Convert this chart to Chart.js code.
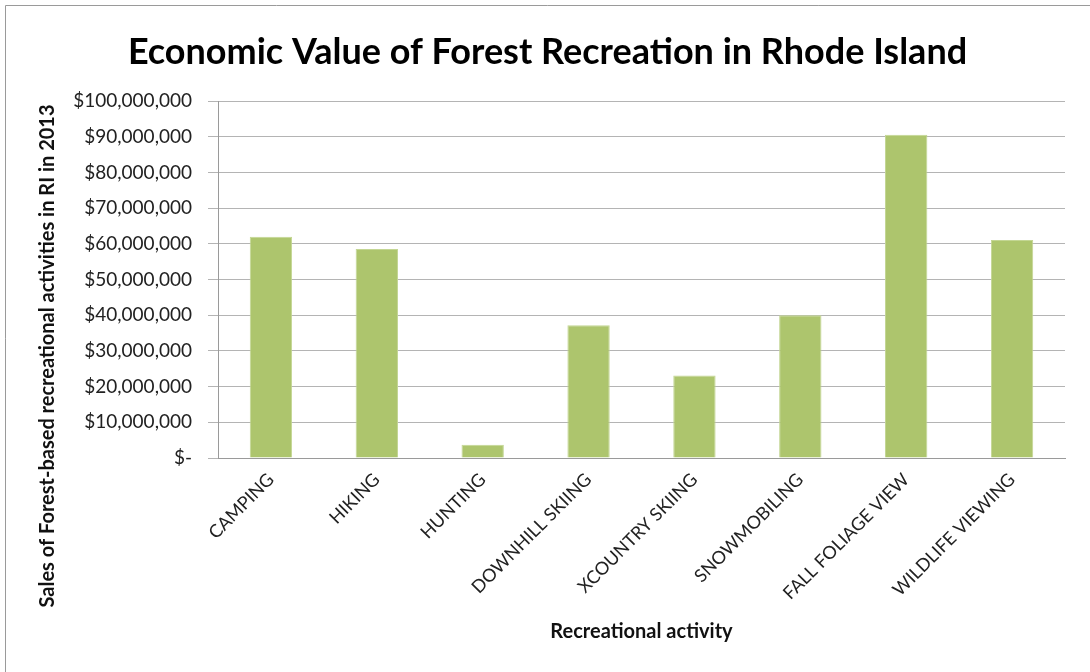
<!DOCTYPE html>
<html lang="en">
<head>
    <meta charset="UTF-8">
    <title>Economic Value of Forest Recreation in Rhode Island</title>
    <style>
        body {
            margin: 0;
            padding: 0;
            background-color: #fff;
        }

        #wrap {
            width: 1090px;
            height: 672px;
            position: relative;
        }
    </style>
</head>
<body>
    <div id="wrap">
        <canvas id="forestChart" width="1090" height="672"></canvas>
    </div>
    <script src="https://cdn.jsdelivr.net/npm/chart.js"></script>
    <script>
        // values (US dollars, 2013)
        const activities = ['CAMPING', 'HIKING', 'HUNTING', 'DOWNHILL SKIING', 'XCOUNTRY SKIING', 'SNOWMOBILING', 'FALL FOLIAGE VIEW', 'WILDLIFE VIEWING'];
        const sales = [62000000, 58600000, 3700000, 37200000, 23100000, 40000000, 90600000, 61100000];
        const yTicks = [0, 10000000, 20000000, 30000000, 40000000, 50000000, 60000000, 70000000, 80000000, 90000000, 100000000];

        const fontFamily = 'Lato, "Open Sans", sans-serif';
        const yTitle = 'Sales of Forest-based recreational activities in RI in 2013';

        function dollars(v) {
            if (v === 0) return '$-';
            return '$' + v.toLocaleString('en-US');
        }

        // thin frame around the chart (like the pasted Excel object) + y axis title
        const framePlugin = {
            id: 'frame',
            beforeDraw(chart) {
                const ctx = chart.ctx;
                ctx.save();
                ctx.strokeStyle = '#9a9a9a';
                ctx.lineWidth = 1;
                ctx.beginPath();
                ctx.moveTo(5.5, 672);
                ctx.lineTo(5.5, 5.5);
                ctx.lineTo(1090, 5.5);
                ctx.stroke();
                ctx.restore();
            },
            afterDraw(chart) {
                const ctx = chart.ctx;
                ctx.save();
                ctx.translate(48, 356);
                ctx.rotate(-Math.PI / 2);
                ctx.fillStyle = '#111';
                ctx.font = 'bold 20px ' + fontFamily;
                ctx.textAlign = 'center';
                ctx.textBaseline = 'middle';
                ctx.fillText(yTitle, 0, 0);
                ctx.restore();
            }
        };

        const ctx = document.getElementById('forestChart').getContext('2d');
        new Chart(ctx, {
            type: 'bar',
            data: {
                labels: activities,
                datasets: [{
                    label: 'Sales',
                    data: sales,
                    backgroundColor: '#adc56d',
                    borderColor: '#c3d693',
                    borderWidth: 1,
                    categoryPercentage: 1.0,
                    barPercentage: 0.4
                }]
            },
            options: {
                responsive: false,
                animation: false,
                layout: {
                    padding: { left: 30, right: 25, top: 0, bottom: 24 }
                },
                plugins: {
                    legend: { display: false },
                    tooltip: { enabled: false },
                    title: {
                        display: true,
                        text: 'Economic Value of Forest Recreation in Rhode Island',
                        color: '#000',
                        font: { family: fontFamily, size: 36, weight: 'bold' },
                        padding: { top: 31, bottom: 27 }
                    }
                },
                scales: {
                    x: {
                        grid: { display: false },
                        border: { display: true, color: '#9a9a9a', width: 1 },
                        ticks: {
                            color: '#222',
                            font: { family: fontFamily, size: 18 },
                            minRotation: 45,
                            maxRotation: 45,
                            autoSkip: false
                        },
                        title: {
                            display: true,
                            text: 'Recreational activity',
                            color: '#111',
                            font: { family: fontFamily, size: 20, weight: 'bold' },
                            padding: { top: 4, bottom: 4 }
                        },
                        afterFit(scale) {
                            scale.height = 190;
                        }
                    },
                    y: {
                        min: 0,
                        max: 100000000,
                        afterBuildTicks(scale) {
                            scale.ticks = yTicks.map(v => ({ value: v }));
                        },
                        grid: {
                            color: '#b4b4b4',
                            lineWidth: 1,
                            tickLength: 10
                        },
                        border: { display: true, color: '#9a9a9a', width: 1 },
                        ticks: {
                            color: '#222',
                            font: { family: fontFamily, size: 19 },
                            padding: 16,
                            callback: (v) => dollars(v)
                        },
                        afterFit(scale) {
                            scale.width = 188;
                        }
                    }
                }
            },
            plugins: [framePlugin]
        });
    </script>
</body>
</html>
